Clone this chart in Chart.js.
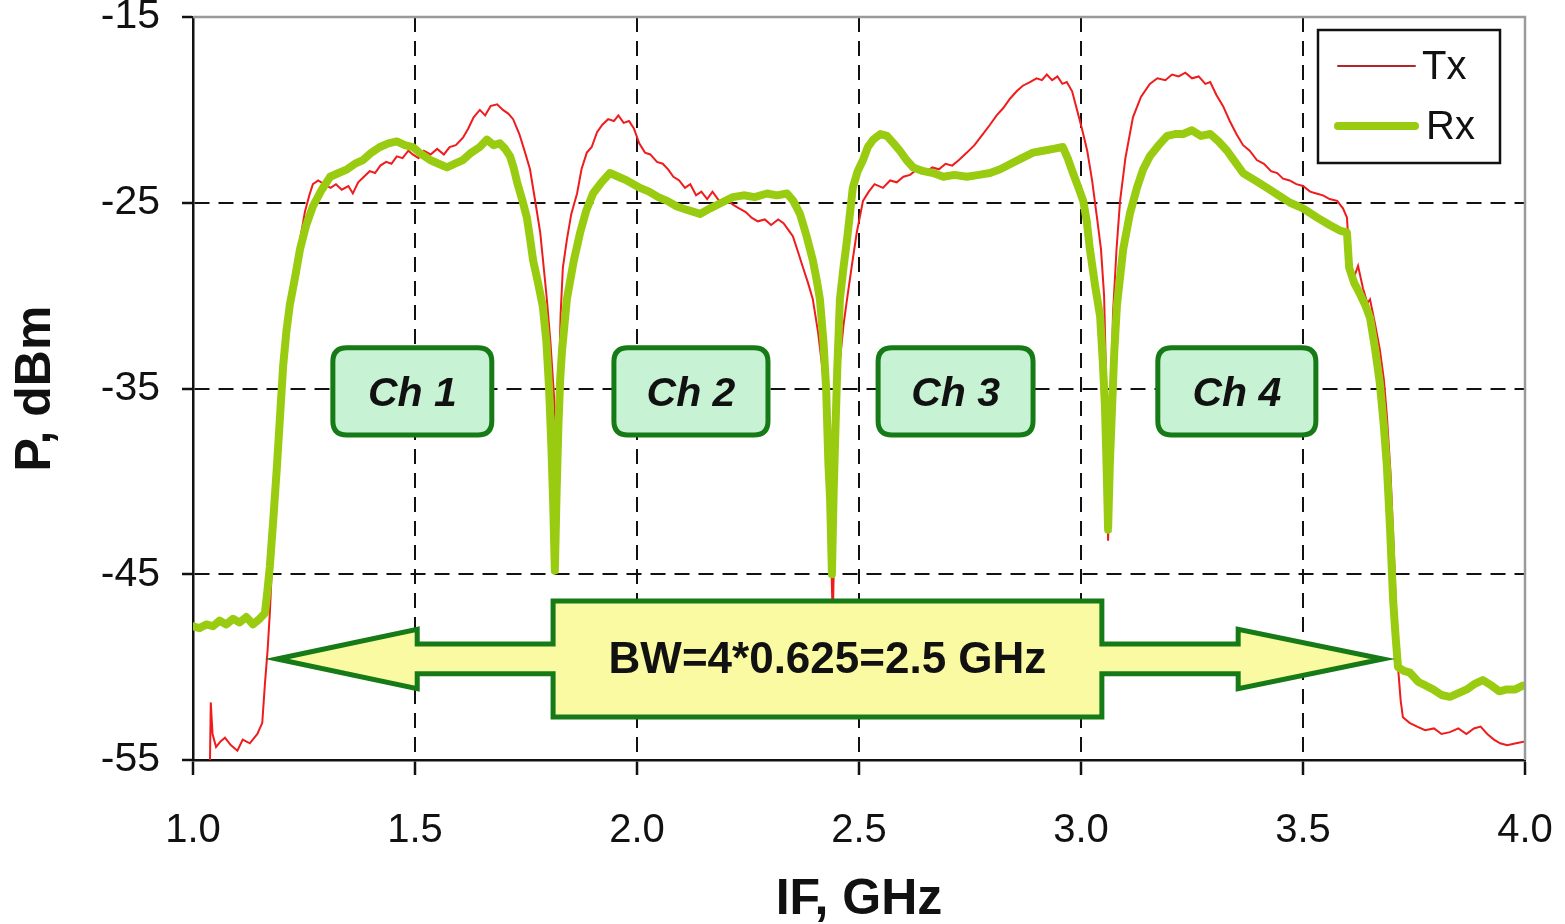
<!DOCTYPE html>
<html>
<head>
<meta charset="utf-8">
<script src="https://cdn.jsdelivr.net/npm/chart.js@4.4.1/dist/chart.umd.min.js"></script>
<style>
  html, body { margin: 0; padding: 0; background: #fff; }
  #wrap { width: 1565px; height: 924px; }
</style>
</head>
<body>
<div id="wrap"><canvas id="ifChart"></canvas></div>
<script>
// values (IF in GHz, power in dBm)
const txFreq = [1.038,1.040,1.044,1.052,1.062,1.072,1.085,1.100,1.112,1.128,1.145,1.156,1.162,1.168,1.173,1.180,1.187,1.196,1.207,1.218,
  1.230,1.241,1.252,1.262,1.270,1.282,1.295,1.310,1.322,1.335,1.350,1.360,1.372,1.385,1.398,1.410,1.422,1.435,1.447,1.459,
  1.472,1.485,1.495,1.508,1.520,1.535,1.550,1.565,1.578,1.592,1.608,1.620,1.632,1.646,1.658,1.670,1.685,1.698,1.710,1.721,
  1.735,1.748,1.759,1.770,1.782,1.790,1.797,1.805,1.812,1.818,1.823,1.828,1.833,1.842,1.852,1.865,1.875,1.887,1.898,1.910,
  1.922,1.935,1.948,1.958,1.970,1.982,1.993,2.005,2.018,2.030,2.045,2.058,2.070,2.082,2.095,2.108,2.120,2.133,2.145,2.158,
  2.170,2.185,2.200,2.216,2.230,2.245,2.258,2.272,2.288,2.302,2.318,2.330,2.342,2.351,2.362,2.374,2.385,2.396,2.408,2.418,
  2.428,2.435,2.441,2.446,2.451,2.457,2.465,2.473,2.485,2.495,2.509,2.522,2.535,2.554,2.570,2.585,2.600,2.615,2.631,2.648,
  2.665,2.680,2.695,2.710,2.725,2.743,2.760,2.779,2.795,2.810,2.825,2.840,2.855,2.869,2.885,2.900,2.912,2.923,2.935,2.947,
  2.958,2.968,2.980,2.991,3.002,3.014,3.025,3.036,3.045,3.052,3.057,3.061,3.066,3.072,3.080,3.088,3.100,3.117,3.135,3.155,
  3.172,3.190,3.205,3.220,3.235,3.250,3.265,3.280,3.291,3.305,3.320,3.335,3.350,3.365,3.380,3.396,3.412,3.428,3.442,3.455,
  3.470,3.485,3.500,3.516,3.530,3.545,3.560,3.577,3.590,3.599,3.606,3.615,3.624,3.635,3.645,3.651,3.662,3.673,3.682,3.689,
  3.697,3.703,3.709,3.714,3.720,3.725,3.740,3.757,3.775,3.795,3.812,3.831,3.850,3.868,3.885,3.900,3.915,3.930,3.944,3.960,
  3.980,4.000];
const txPower = [-55.5,-51.9,-53.6,-54.3,-54.0,-53.8,-54.2,-54.5,-53.9,-54.1,-53.6,-53.0,-50.9,-49.1,-47.1,-43.5,-39.5,-35.5,-32.5,-31.0,
  -28.6,-27.0,-25.5,-24.6,-24.0,-23.8,-24.0,-24.2,-24.0,-24.3,-24.1,-24.5,-23.9,-23.6,-23.3,-23.4,-23.0,-22.8,-22.9,-22.5,
  -22.6,-22.2,-22.4,-22.6,-22.2,-22.4,-22.1,-22.4,-22.0,-21.9,-21.5,-21.0,-20.4,-20.0,-20.3,-19.8,-19.7,-20.0,-20.2,-20.5,
  -21.3,-22.3,-23.2,-24.8,-26.6,-28.5,-30.2,-32.5,-35.0,-37.5,-35.5,-31.0,-28.5,-27.0,-25.6,-24.5,-23.2,-22.3,-22.0,-21.2,
  -20.8,-20.5,-20.6,-20.3,-20.7,-20.6,-21.0,-21.8,-22.3,-22.4,-22.8,-22.9,-23.2,-23.6,-23.8,-24.2,-24.0,-24.6,-24.4,-24.8,
  -24.4,-24.9,-24.8,-25.1,-25.3,-25.5,-25.8,-26.0,-25.9,-26.2,-25.9,-26.1,-26.5,-26.8,-27.6,-28.5,-29.3,-30.2,-32.0,-34.0,
  -37.5,-42.0,-47.5,-41.0,-36.0,-33.5,-31.6,-30.2,-28.2,-26.6,-24.9,-24.4,-24.0,-24.2,-23.8,-23.9,-23.6,-23.5,-23.2,-23.4,
  -23.1,-23.2,-22.9,-23.0,-22.7,-22.3,-21.9,-21.3,-20.8,-20.3,-19.9,-19.4,-19.0,-18.7,-18.5,-18.3,-18.4,-18.1,-18.4,-18.2,
  -18.6,-18.5,-19.0,-20.0,-21.0,-22.2,-23.8,-25.8,-27.5,-30.0,-35.0,-43.2,-38.0,-31.0,-27.5,-24.9,-22.6,-20.4,-19.3,-18.6,
  -18.3,-18.4,-18.1,-18.2,-18.0,-18.3,-18.2,-18.6,-18.5,-19.2,-19.8,-20.6,-21.3,-21.9,-22.2,-22.7,-22.9,-23.3,-23.4,-23.7,
  -23.8,-24.0,-24.1,-24.4,-24.5,-24.6,-24.8,-24.9,-25.3,-25.8,-28.5,-29.0,-28.4,-29.6,-30.4,-30.2,-31.5,-32.9,-34.5,-36.5,
  -39.5,-42.8,-46.5,-50.0,-51.8,-52.7,-53.0,-53.2,-53.4,-53.3,-53.6,-53.5,-53.3,-53.6,-53.3,-53.2,-53.6,-53.9,-54.1,-54.2,
  -54.1,-54.0];

const rxFreq = [1.000,1.015,1.030,1.045,1.060,1.075,1.090,1.105,1.120,1.135,1.150,1.162,1.168,1.173,1.181,1.189,1.196,1.203,1.210,1.218,
  1.230,1.241,1.255,1.270,1.290,1.309,1.328,1.347,1.365,1.383,1.402,1.421,1.440,1.459,1.477,1.495,1.515,1.534,1.553,1.572,
  1.590,1.608,1.627,1.646,1.662,1.677,1.691,1.703,1.714,1.722,1.730,1.741,1.752,1.759,1.766,1.777,1.788,1.796,1.802,1.807,
  1.811,1.815,1.819,1.823,1.827,1.831,1.842,1.857,1.872,1.886,1.901,1.920,1.939,1.958,1.977,1.992,2.007,2.027,2.048,2.068,
  2.090,2.115,2.142,2.165,2.190,2.216,2.240,2.265,2.293,2.315,2.338,2.352,2.367,2.382,2.396,2.405,2.412,2.420,2.426,2.431,
  2.435,2.439,2.443,2.446,2.451,2.457,2.465,2.473,2.480,2.486,2.497,2.509,2.520,2.532,2.548,2.563,2.578,2.592,2.607,2.622,
  2.645,2.667,2.690,2.715,2.743,2.770,2.795,2.818,2.842,2.867,2.892,2.915,2.938,2.959,2.970,2.982,2.993,3.005,3.013,3.020,
  3.032,3.043,3.049,3.054,3.058,3.061,3.065,3.070,3.075,3.081,3.088,3.095,3.110,3.126,3.140,3.155,3.175,3.194,3.212,3.230,
  3.250,3.270,3.291,3.310,3.329,3.347,3.365,3.392,3.419,3.445,3.471,3.500,3.532,3.560,3.583,3.599,3.604,3.615,3.628,3.640,
  3.651,3.662,3.673,3.682,3.689,3.696,3.703,3.709,3.714,3.727,3.741,3.760,3.777,3.793,3.812,3.831,3.850,3.869,3.887,3.905,
  3.925,3.942,3.959,3.978,3.995];
const rxPower = [-47.8,-47.9,-47.7,-47.8,-47.5,-47.7,-47.4,-47.6,-47.3,-47.7,-47.4,-47.1,-45.8,-44.6,-42.0,-39.2,-36.5,-33.8,-32.0,-30.5,
  -29.0,-27.5,-26.2,-25.2,-24.3,-23.6,-23.4,-23.2,-22.9,-22.7,-22.3,-22.0,-21.8,-21.7,-21.9,-22.0,-22.4,-22.7,-22.9,-23.1,
  -22.9,-22.7,-22.3,-22.0,-21.6,-21.9,-21.8,-22.1,-22.5,-23.1,-23.9,-24.8,-25.8,-26.9,-28.1,-29.3,-30.6,-32.5,-35.0,-38.0,
  -41.0,-44.8,-40.5,-37.0,-34.5,-33.0,-30.2,-28.2,-26.6,-25.4,-24.5,-23.9,-23.4,-23.6,-23.8,-24.0,-24.2,-24.4,-24.7,-24.9,
  -25.2,-25.4,-25.6,-25.3,-25.0,-24.7,-24.6,-24.7,-24.5,-24.6,-24.5,-24.9,-25.6,-26.8,-28.1,-29.2,-30.2,-32.5,-35.0,-39.0,
  -41.0,-45.0,-40.5,-38.0,-34.0,-30.2,-28.5,-27.0,-25.5,-24.2,-23.3,-22.7,-22.0,-21.6,-21.3,-21.4,-21.8,-22.2,-22.7,-23.1,
  -23.3,-23.4,-23.6,-23.5,-23.6,-23.5,-23.4,-23.2,-22.9,-22.6,-22.3,-22.2,-22.1,-22.0,-22.6,-23.4,-24.1,-24.9,-26.0,-27.5,
  -29.5,-31.1,-33.5,-36.0,-39.5,-42.6,-39.0,-36.0,-33.0,-30.5,-29.0,-27.5,-25.6,-24.2,-23.2,-22.5,-21.9,-21.4,-21.3,-21.3,
  -21.1,-21.4,-21.3,-21.7,-22.2,-22.8,-23.4,-23.8,-24.2,-24.6,-25.0,-25.3,-25.8,-26.2,-26.5,-26.6,-28.5,-29.3,-29.9,-30.5,
  -31.2,-32.8,-34.7,-37.0,-39.2,-42.5,-46.4,-48.5,-50.0,-50.2,-50.3,-50.8,-51.0,-51.2,-51.5,-51.6,-51.4,-51.2,-50.9,-50.7,
  -51.0,-51.3,-51.2,-51.2,-51.0];

const xTicks = [1.0, 1.5, 2.0, 2.5, 3.0, 3.5, 4.0];
const yTicks = [-55, -45, -35, -25, -15];

// channel labels (in data units: GHz / dBm)
const chLabels = ["Ch 1", "Ch 2", "Ch 3", "Ch 4"];
const chFrom = [1.315, 1.948, 2.543, 3.173];
const chTo = [1.673, 2.295, 2.892, 3.529];
const chTop = -32.8, chBottom = -37.5;

// bandwidth arrow
const bwText = "BW=4*0.625=2.5 GHz";
const bwTips = [1.189, 3.680];
const bwHeads = [1.505, 3.354];
const bwBox = [1.811, 3.047];
const bwMid = -49.56, bwBoxTop = -46.44, bwBoxBottom = -52.69;

const txData = txFreq.map((f, i) => ({x: f, y: txPower[i]}));
const rxData = rxFreq.map((f, i) => ({x: f, y: rxPower[i]}));

const FONT = "Arial, 'Liberation Sans', sans-serif";

function roundRect(ctx, x, y, w, h, r) {
    ctx.beginPath();
    ctx.moveTo(x + r, y);
    ctx.lineTo(x + w - r, y);
    ctx.quadraticCurveTo(x + w, y, x + w, y + r);
    ctx.lineTo(x + w, y + h - r);
    ctx.quadraticCurveTo(x + w, y + h, x + w - r, y + h);
    ctx.lineTo(x + r, y + h);
    ctx.quadraticCurveTo(x, y + h, x, y + h - r);
    ctx.lineTo(x, y + r);
    ctx.quadraticCurveTo(x, y, x + r, y);
    ctx.closePath();
}

const extrasPlugin = {
    id: "extras",
    afterDatasetsDraw(chart) {
        const ctx = chart.ctx;
        const a = chart.chartArea;
        const xs = chart.scales.x, ys = chart.scales.y;
        ctx.save();

        // grey frame top / right
        ctx.strokeStyle = "#9a9a9a";
        ctx.lineWidth = 2.5;
        ctx.beginPath();
        ctx.moveTo(a.left, a.top);
        ctx.lineTo(a.right, a.top);
        ctx.lineTo(a.right, a.bottom);
        ctx.stroke();

        // channel boxes
        for (let i = 0; i < chLabels.length; i++) {
            let x1 = xs.getPixelForValue(chFrom[i]);
            let x2 = xs.getPixelForValue(chTo[i]);
            let y1 = ys.getPixelForValue(chTop);
            let y2 = ys.getPixelForValue(chBottom);
            roundRect(ctx, x1, y1, x2 - x1, y2 - y1, 14);
            ctx.fillStyle = "#c8f2d4";
            ctx.fill();
            ctx.lineWidth = 5;
            ctx.strokeStyle = "#167a16";
            ctx.stroke();
            ctx.fillStyle = "#111";
            ctx.font = "italic bold 41px " + FONT;
            ctx.textAlign = "center";
            ctx.textBaseline = "middle";
            ctx.fillText(chLabels[i], (x1 + x2) / 2, (y1 + y2) / 2 + 3);
        }

        // double arrow with the bandwidth box
        let ym = ys.getPixelForValue(bwMid);
        let headH = ys.getPixelForValue(bwMid - 1.6) - ym;
        let shaftH = ys.getPixelForValue(bwMid - 0.8) - ym;
        let lt = xs.getPixelForValue(bwTips[0]), rt = xs.getPixelForValue(bwTips[1]);
        let lh = xs.getPixelForValue(bwHeads[0]), rh = xs.getPixelForValue(bwHeads[1]);
        let bl = xs.getPixelForValue(bwBox[0]), br = xs.getPixelForValue(bwBox[1]);
        let bt = ys.getPixelForValue(bwBoxTop), bb = ys.getPixelForValue(bwBoxBottom);
        ctx.beginPath();
        ctx.moveTo(lt, ym);
        ctx.lineTo(lh, ym - headH);
        ctx.lineTo(lh, ym - shaftH);
        ctx.lineTo(bl, ym - shaftH);
        ctx.lineTo(bl, bt);
        ctx.lineTo(br, bt);
        ctx.lineTo(br, ym - shaftH);
        ctx.lineTo(rh, ym - shaftH);
        ctx.lineTo(rh, ym - headH);
        ctx.lineTo(rt, ym);
        ctx.lineTo(rh, ym + headH);
        ctx.lineTo(rh, ym + shaftH);
        ctx.lineTo(br, ym + shaftH);
        ctx.lineTo(br, bb);
        ctx.lineTo(bl, bb);
        ctx.lineTo(bl, ym + shaftH);
        ctx.lineTo(lh, ym + shaftH);
        ctx.lineTo(lh, ym + headH);
        ctx.closePath();
        ctx.fillStyle = "#fafaa2";
        ctx.fill();
        ctx.lineWidth = 5;
        ctx.lineJoin = "miter";
        ctx.strokeStyle = "#167a16";
        ctx.stroke();
        ctx.fillStyle = "#111";
        ctx.font = "bold 44px " + FONT;
        ctx.textAlign = "center";
        ctx.textBaseline = "middle";
        ctx.fillText(bwText, (bl + br) / 2, ym + 2);

        // legend box
        const ds = chart.data.datasets;
        let lx = a.right - 207, ly = a.top + 13;
        ctx.fillStyle = "#fff";
        ctx.fillRect(lx, ly, 182, 133);
        ctx.lineWidth = 2.5;
        ctx.strokeStyle = "#111";
        ctx.strokeRect(lx, ly, 182, 133);
        for (let i = 0; i < ds.length; i++) {
            let yy = ly + 36 + i * 60;
            ctx.beginPath();
            ctx.moveTo(lx + 20, yy);
            ctx.lineTo(lx + 97, yy);
            ctx.strokeStyle = i === 0 ? "#b0262a" : ds[i].borderColor;
            ctx.lineWidth = i === 0 ? 2 : 8;
            ctx.lineCap = "round";
            ctx.stroke();
            ctx.fillStyle = "#111";
            ctx.font = "40px " + FONT;
            ctx.textAlign = "left";
            ctx.fillText(ds[i].label, lx + 104 + i * 4, yy + 2);
        }
        ctx.restore();
    }
};

new Chart(document.getElementById("ifChart"), {
    type: "line",
    data: {
        datasets: [{
            label: "Tx",
            data: txData,
            borderColor: "#ee1c1c",
            borderWidth: 2,
            pointRadius: 0,
            tension: 0,
            order: 1
        }, {
            label: "Rx",
            data: rxData,
            borderColor: "#99cc11",
            borderWidth: 8,
            borderJoinStyle: "round",
            borderCapStyle: "round",
            pointRadius: 0,
            tension: 0,
            order: 0
        }]
    },
    options: {
        responsive: true,
        maintainAspectRatio: false,
        animation: false,
        layout: {padding: {left: 0, right: 40, top: 17, bottom: 0}},
        plugins: {
            legend: {display: false},
            tooltip: {enabled: false}
        },
        scales: {
            x: {
                type: "linear",
                min: 1.0,
                max: 4.0,
                afterFit: function (scale) {
                    scale.height = 164;
                    scale.paddingLeft = 0;
                    scale.paddingRight = 0;
                },
                afterBuildTicks: function (scale) { scale.ticks = xTicks.map(v => ({value: v})); },
                ticks: {
                    color: "#111",
                    padding: 32,
                    maxRotation: 0,
                    font: {family: FONT, size: 40},
                    callback: function (v) { return Number(v).toFixed(1); }
                },
                grid: {
                    color: function (c) { return (c.tick && (c.tick.value === 1 || c.tick.value === 4)) ? "rgba(0,0,0,0)" : "#111"; },
                    lineWidth: 2,
                    tickColor: "#111",
                    tickLength: 15,
                    tickWidth: 2.5
                },
                border: {color: "#111", width: 2.5, dash: [15, 9]},
                title: {
                    display: true,
                    text: "IF, GHz",
                    color: "#111",
                    font: {family: FONT, size: 50, weight: "bold"},
                    padding: {top: 0, bottom: -6}
                }
            },
            y: {
                type: "linear",
                min: -55,
                max: -15,
                afterFit: function (scale) {
                    scale.width = 193;
                    scale.paddingTop = 0;
                    scale.paddingBottom = 0;
                },
                afterBuildTicks: function (scale) { scale.ticks = yTicks.map(v => ({value: v})); },
                ticks: {
                    color: "#111",
                    padding: 22,
                    font: {family: FONT, size: 41}
                },
                grid: {
                    color: function (c) { return (c.tick && (c.tick.value === -55 || c.tick.value === -15)) ? "rgba(0,0,0,0)" : "#111"; },
                    lineWidth: 2,
                    tickColor: "#111",
                    tickLength: 11,
                    tickWidth: 2.5
                },
                border: {color: "#111", width: 2.5, dash: [15, 9]},
                title: {
                    display: true,
                    text: "P, dBm",
                    color: "#111",
                    font: {family: FONT, size: 50, weight: "bold"},
                    padding: {top: 6, bottom: 0}
                }
            }
        }
    },
    plugins: [extrasPlugin]
});
</script>
</body>
</html>
